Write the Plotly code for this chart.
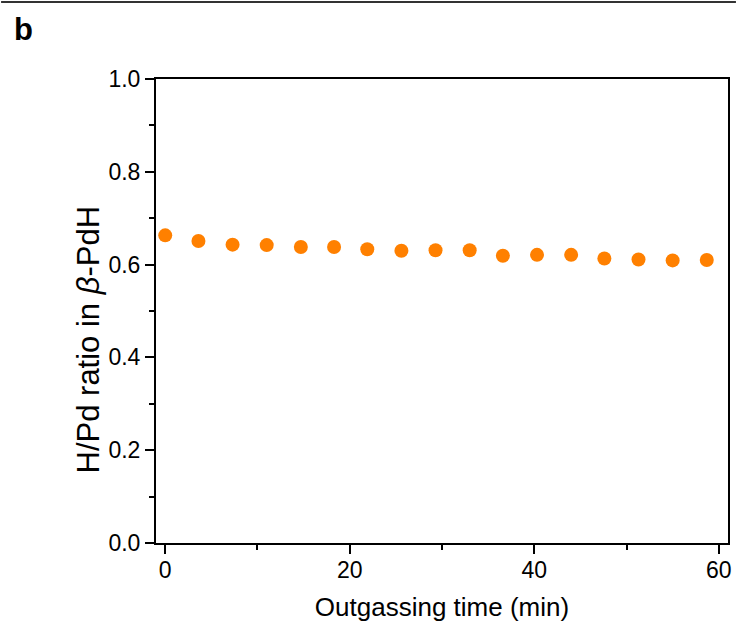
import plotly.graph_objects as go

# Outgassing measurement: H/Pd ratio in beta-PdH vs time
time_min = [0.0, 3.6, 7.3, 11.0, 14.7, 18.3, 21.9, 25.6, 29.3, 33.0,
            36.6, 40.3, 44.0, 47.6, 51.3, 55.0, 58.7]
h_pd_ratio = [0.663, 0.651, 0.643, 0.642, 0.638, 0.638, 0.633, 0.630, 0.631,
              0.631, 0.619, 0.621, 0.621, 0.613, 0.611, 0.609, 0.610]

x_ticks = [0, 20, 40, 60]
y_ticks = [0.0, 0.2, 0.4, 0.6, 0.8, 1.0]

FONT = "Liberation Sans, Arial, sans-serif"
W, H = 740, 626
L, R, T, B = 156, 8, 79, 83
pw, ph = W - L - R, H - T - B

fig = go.Figure()
fig.add_trace(go.Scatter(
    x=time_min, y=h_pd_ratio, mode="markers",
    marker=dict(color="#FF8000", size=14, line=dict(width=0)),
    showlegend=False, cliponaxis=False,
))

axis_common = dict(
    showline=True, linecolor="black", linewidth=2, mirror=True,
    ticks="outside", ticklen=9, tickwidth=2, tickcolor="black",
    showgrid=False, zeroline=False,
    tickfont=dict(family=FONT, size=23, color="black"),
)

fig.update_xaxes(
    range=[-1, 61], tickvals=x_ticks, ticklabelstandoff=-4,
    minor=dict(ticks="outside", ticklen=5, tickwidth=2, tickcolor="black", dtick=10, tick0=0),
    title=dict(text="Outgassing time (min)", font=dict(family=FONT, size=26, color="black"), standoff=16),
    **axis_common,
)
fig.update_yaxes(
    range=[0, 1.0], tickvals=y_ticks, tickformat=".1f",
    minor=dict(ticks="outside", ticklen=5, tickwidth=2, tickcolor="black", dtick=0.1, tick0=0),
    **axis_common,
)

# y-axis title, rotated
fig.add_annotation(text="H/Pd ratio in <i>β</i>-PdH", xref="paper", yref="paper",
                   x=(88 - L) / pw, y=(H - B - 339) / ph,
                   xanchor="center", yanchor="middle", textangle=-90, showarrow=False,
                   font=dict(family=FONT, size=31, color="black"))

# rule across the top of the panel
fig.add_shape(type="line", xref="paper", yref="paper",
              x0=-L / pw, x1=1 + R / pw, y0=1 + (T - 2) / ph, y1=1 + (T - 2) / ph,
              line=dict(color="#333333", width=2))

# panel label
fig.add_annotation(text="<b>b</b>", xref="paper", yref="paper",
                   x=(11 - L) / pw, y=1 + (T - 10) / ph,
                   xanchor="left", yanchor="top", showarrow=False,
                   font=dict(family=FONT, size=31, color="black"))

fig.update_layout(
    width=W, height=H,
    margin=dict(l=L, r=R, t=T, b=B),
    paper_bgcolor="white", plot_bgcolor="white",
)

fig.write_html("out.html")
